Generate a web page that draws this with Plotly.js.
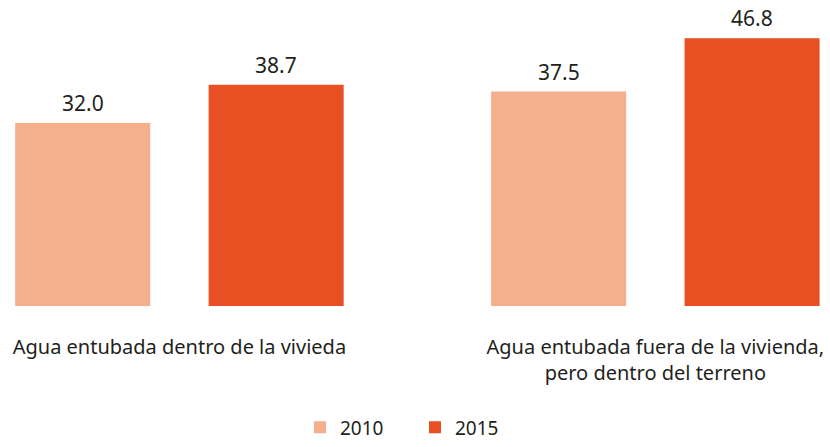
<!DOCTYPE html>
<html>
<head>
<meta charset="utf-8">
<script src="https://cdn.plot.ly/plotly-3.0.1.min.js"></script>
<style>html,body{margin:0;padding:0;background:#fff;}#chart{width:830px;height:447px;}</style>
</head>
<body>
<div id="chart"></div>
<script>
var categories = ["Agua entubada dentro de la vivieda", "Agua entubada fuera de la vivienda,<br>pero dentro del terreno"];
var years = ["2010", "2015"];
var values2010 = [32.0, 37.5];
var values2015 = [38.7, 46.8];
var colors = ["#F5AF8B", "#E85024"];

var series = [values2010, values2015];
var data = series.map(function (vals, i) {
  return {
    type: "bar",
    name: years[i],
    x: categories,
    y: vals,
    marker: { color: colors[i] },
    hoverinfo: "none"
  };
});

var shifts = [-96.75, 96.75];
var annotations = [];
series.forEach(function (vals, i) {
  vals.forEach(function (v, j) {
    annotations.push({
      xref: "x", yref: "y", x: categories[j], y: v,
      xshift: shifts[i], yshift: 4,
      yanchor: "bottom", showarrow: false,
      text: v.toFixed(1),
      font: { family: "Noto Sans, sans-serif", size: 21, color: "#231f20" }
    });
  });
});

var layout = {
  width: 830, height: 447,
  margin: { l: 0, r: 0, t: 0, b: 130 },
  paper_bgcolor: "#fff", plot_bgcolor: "#fff",
  barmode: "group", bargap: 0.187, bargroupgap: 0.302,
  showlegend: true,
  legend: {
    orientation: "h", x: 0.5, xanchor: "center", y: -0.335, yanchor: "top",
    font: { family: "Noto Sans, sans-serif", size: 19, color: "#231f20" },
    entrywidth: 70, entrywidthmode: "pixels"
  },
  xaxis: {
    type: "category", range: [-0.377, 1.367],
    showgrid: false, zeroline: false, showline: false,
    ticks: "outside", ticklen: 23, tickcolor: "rgba(0,0,0,0)",
    tickfont: { family: "Noto Sans, sans-serif", size: 20, color: "#231f20" }
  },
  yaxis: {
    range: [0, 53.5], visible: false, showgrid: false, zeroline: false
  },
  annotations: annotations
};

Plotly.newPlot("chart", data, layout, { displayModeBar: false, staticPlot: true });
</script>
</body>
</html>
